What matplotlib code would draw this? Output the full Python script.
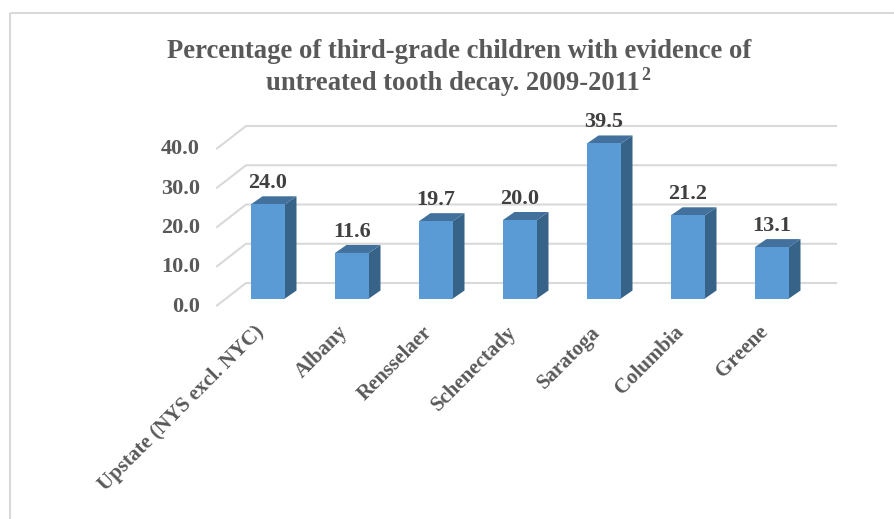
import matplotlib
matplotlib.use('Agg')
import matplotlib.pyplot as plt
from matplotlib.patches import Polygon, Rectangle

categories = ['Upstate (NYS excl. NYC)', 'Albany', 'Rensselaer', 'Schenectady',
              'Saratoga', 'Columbia', 'Greene']
values = [24.0, 11.6, 19.7, 20.0, 39.5, 21.2, 13.1]
y_ticks = [0, 10, 20, 30, 40]

plt.rcParams['font.family'] = ['Liberation Serif', 'DejaVu Serif']
GREY = '#595959'
FRONT = '#5b9bd5'
SIDE = '#376389'
TOP = '#41719c'
GRID = '#d9d9d9'

W, H = 895, 519
fig = plt.figure(figsize=(W / 100, H / 100), dpi=100)
ax = fig.add_axes([0, 0, 1, 1])
ax.set_xlim(0, W)
ax.set_ylim(H, 0)
ax.axis('off')

# chart frame
ax.add_patch(Rectangle((10.5, 12.5), 900, 600, fill=False, ec=GRID, lw=1.5))

slot = 84
base = 298.5
per_unit = 3.925
bar_w = 34
d = 11.5
e = 8

def y_of(v):
    return base - v * per_unit

for t in y_ticks:
    y = y_of(t)
    ax.plot([217, 246, 836], [y + 7, y - 15.5, y - 15.5], color=GRID, lw=1.5, zorder=1)
    ax.text(200, y + 8, '%.1f' % t, ha='right', va='center', fontsize=16,
            fontweight='bold', color=GREY)

for i, (name, v) in enumerate(zip(categories, values)):
    left = 251 + i * slot
    top = y_of(v)
    ax.add_patch(Polygon([(left + bar_w, base), (left + bar_w + d, base - e),
                          (left + bar_w + d, top - e), (left + bar_w, top)],
                         fc=SIDE, ec='none', zorder=3))
    ax.add_patch(Polygon([(left, top), (left + d, top - e), (left + bar_w + d, top - e),
                          (left + bar_w, top)], fc=TOP, ec='none', zorder=3))
    ax.add_patch(Rectangle((left, top), bar_w, base - top, fc=FRONT, ec='none', zorder=4))
    ax.text(left + 17, top - 21, '%.1f' % v, ha='center', va='center', fontsize=16,
            fontweight='bold', color='#404040', zorder=5)
    ax.text(left + 3, 322, name, rotation=45, rotation_mode='anchor', ha='right', va='top',
            fontsize=15, fontweight='bold', color=GREY)

ax.text(459.5, 52, 'Percentage of third-grade children with evidence of', ha='center', va='center',
        fontsize=19.2, fontweight='bold', color=GREY)
ax.text(640, 84, 'untreated tooth decay. 2009-2011', ha='right', va='center',
        fontsize=19.2, fontweight='bold', color=GREY)
ax.text(641, 76, '2', ha='left', va='center', fontsize=13, fontweight='bold', color=GREY)

fig.savefig('out.png', dpi=100)
